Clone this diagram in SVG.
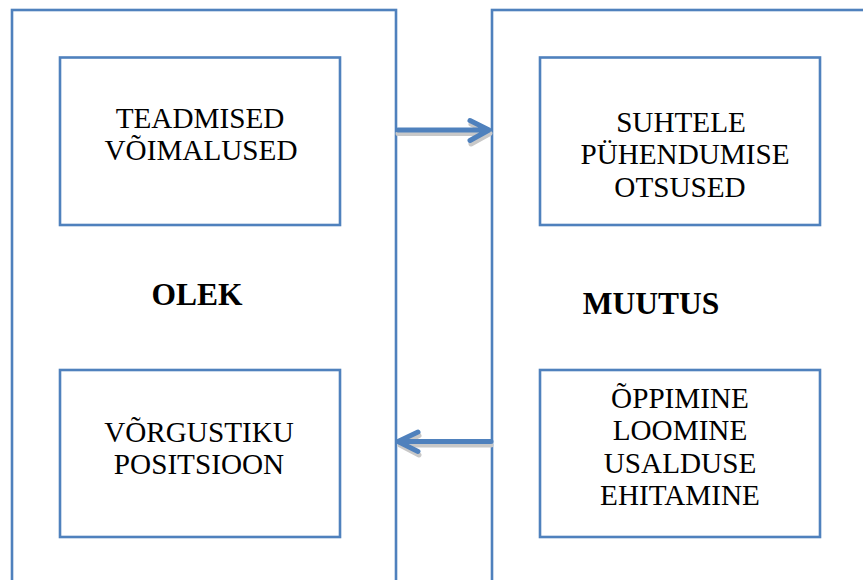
<svg xmlns="http://www.w3.org/2000/svg" width="863" height="580" viewBox="0 0 863 580">
<style>
.box{fill:none;stroke:#4F81BD;stroke-width:2.6}
.t{font-family:"Liberation Serif","Times New Roman",serif;font-size:29.2px;fill:#000;text-anchor:middle}
.b{font-family:"Liberation Serif","Times New Roman",serif;font-size:31.5px;font-weight:bold;fill:#000;text-anchor:middle}
.arr{fill:none;stroke:#4F81BD;stroke-width:5;stroke-linecap:round;stroke-linejoin:round}
.sh{fill:none;stroke:#C8C8C8;stroke-width:5;stroke-linecap:round;stroke-linejoin:round}
</style>
<rect width="863" height="580" fill="#fff"/>
<g id="olek">
<rect class="box" x="12" y="10" width="384" height="600"/>
<text class="b" x="197" y="305">OLEK</text>
</g>
<g id="muutus">
<rect class="box" x="492" y="10" width="400" height="600"/>
<text class="b" x="651" y="314">MUUTUS</text>
</g>
<g id="teadmised">
<rect class="box" x="60" y="57.5" width="280" height="167.5"/>
<text class="t" x="200" y="127.5">TEADMISED</text>
<text class="t" x="201" y="160">VÕIMALUSED</text>
</g>
<g id="vorgustiku">
<rect class="box" x="60" y="370" width="280" height="167"/>
<text class="t" x="199" y="441.5">VÕRGUSTIKU</text>
<text class="t" x="199" y="473.5">POSITSIOON</text>
</g>
<g id="suhtele">
<rect class="box" x="540" y="57.5" width="280" height="167.5"/>
<text class="t" x="681" y="131.5">SUHTELE</text>
<text class="t" x="685" y="164">PÜHENDUMISE</text>
<text class="t" x="680" y="196.5">OTSUSED</text>
</g>
<g id="oppimine">
<rect class="box" x="540" y="370" width="280" height="167"/>
<text class="t" x="680" y="408">ÕPPIMINE</text>
<text class="t" x="680" y="440">LOOMINE</text>
<text class="t" x="680" y="472.5">USALDUSE</text>
<text class="t" x="680" y="505">EHITAMINE</text>
</g>
<g id="connectors">
<path class="sh" d="M398 133.5 H489 M471 124 L490 133.5 L471 144"/>
<path class="arr" d="M398 130 H488 M470 120.5 L489 130 L470 140.5"/>
<path class="sh" d="M491 445 H400 M419 435.5 L400 445 L419 455"/>
<path class="arr" d="M491 441.5 H399 M418 432 L398 441.5 L418 451.5"/>
</g>
</svg>
